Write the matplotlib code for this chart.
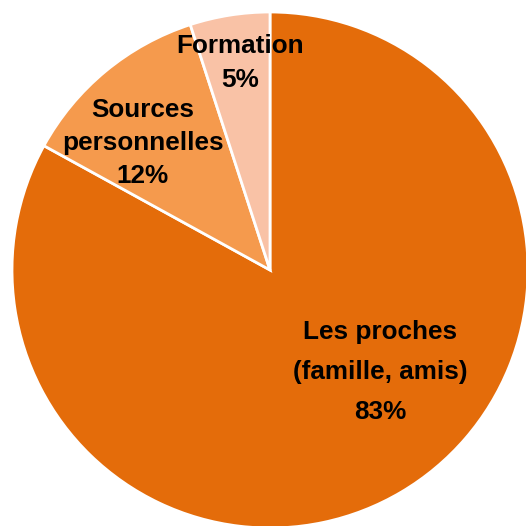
import matplotlib
matplotlib.use("Agg")
import matplotlib.pyplot as plt

categories = ["Les proches\n(famille, amis)", "Sources\npersonnelles", "Formation"]
values = [83, 12, 5]
colors = ["#E46C0A", "#F59A4D", "#F9C2A6"]

plt.rcParams['font.family'] = ['Liberation Sans', 'DejaVu Sans']

H = 526
fig = plt.figure(figsize=(5.26, 5.26), dpi=100)
ax = fig.add_axes([0, 0, 1, 1])

wedges, _ = ax.pie(values, colors=colors, startangle=90, counterclock=False,
                   center=(270, H - 270), radius=258,
                   wedgeprops=dict(edgecolor='white', linewidth=2))
ax.set_xlim(0, H)
ax.set_ylim(0, H)
ax.set_aspect('equal')
ax.axis('off')

label_pos = [(380, 372), (143, 143), (240, 63)]
line_sp = [1.82, 1.45, 1.5]
for cat, v, (x, y), ls in zip(categories, values, label_pos, line_sp):
    ax.text(x, H - y, f"{cat}\n{v}%", ha='center', va='center', fontsize=18.8,
            fontweight='bold', color='black', linespacing=ls)

fig.savefig("out.png", dpi=100)
